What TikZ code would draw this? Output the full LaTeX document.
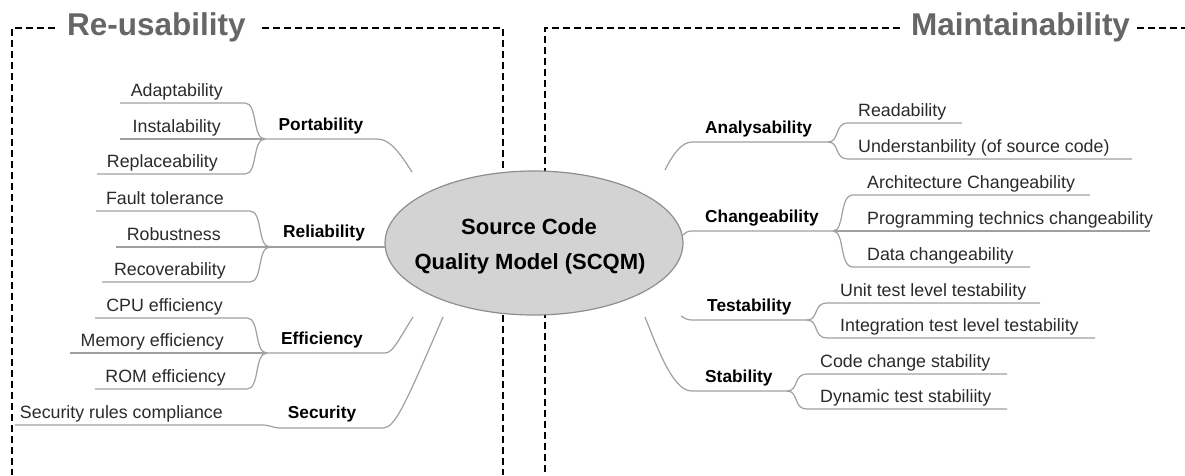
\documentclass[tikz,border=0pt]{standalone}
\usepackage{fontspec}
\setmainfont{Liberation Sans}
\usetikzlibrary{shapes.geometric}
\definecolor{linegray}{HTML}{A0A0A0}
\definecolor{ellfill}{HTML}{D3D3D3}
\definecolor{elldraw}{HTML}{8E8E8E}
\definecolor{ttlgray}{HTML}{666666}
\definecolor{leafcol}{HTML}{2A2A2A}
\newcommand\myleaf{\fontsize{17.8}{20}\selectfont}
\newcommand\mycat{\fontsize{17.3}{20}\selectfont\bfseries}
\newcommand\myttl{\fontsize{31.5}{34}\selectfont\bfseries}
\newcommand\mycen{\fontsize{22}{26}\selectfont\bfseries}
\begin{document}
\begin{tikzpicture}[x=1pt,y=-1pt,
  branch/.style={draw=linegray,line width=1.2pt},
  boxline/.style={draw=black,line width=1.3pt,dash pattern=on 7pt off 4pt},
  leaf/.style={font=\myleaf,text=leafcol,inner sep=0pt},
  cat/.style={font=\mycat,text=black,inner sep=0pt},
  ttl/.style={font=\myttl,text=ttlgray,inner sep=0pt},
  cen/.style={font=\mycen,text=black,inner sep=0pt}]
\useasboundingbox (0,0) rectangle (1185,475);

% titles
\node[ttl,anchor=base west] (reuse) at (67,35) {Re-usability};
\node[ttl,anchor=base west] (maint) at (911,35) {Maintainability};

% dashed boxes
\coordinate (LT1) at (55,28); \coordinate (LTL) at (12,28); \coordinate (LBL) at (12,475);
\coordinate (LT2) at (262,28); \coordinate (LTR) at (503,28); \coordinate (LBR) at (503,475);
\coordinate (RT1) at (900,28); \coordinate (RTL) at (545,28); \coordinate (RBL) at (545,475);
\coordinate (RT2) at (1137,28); \coordinate (RTR) at (1185,28);
\draw[boxline] (LT1) -- (LTL) -- (LBL);
\draw[boxline] (LT2) -- (LTR) -- (LBR);
\draw[boxline] (RT1) -- (RTL) -- (RBL);
\draw[boxline] (RT2) -- (RTR);

% centre
\node[ellipse,minimum width=298pt,minimum height=144pt,inner sep=0pt,fill=ellfill,draw=elldraw,line width=1.2pt] (scqm) at (534,243) {};
\node[cen,anchor=base] (cen1) at (529,234) {Source Code};
\node[cen,anchor=base] (cen2) at (530,269) {Quality Model (SCQM)};

% ---------- Portability
\coordinate (porF) at (265,139); \coordinate (porK) at (377,139); \coordinate (porE) at (412,172);
\draw[branch] (porF) -- (porK) .. controls (389,139) and (398,150) .. (porE);
\coordinate (adaA) at (120,103); \coordinate (adaB) at (245,103);
\draw[branch] (adaA) -- (adaB) .. controls (258,103) and (252,139) .. (porF);
\coordinate (insA) at (120,139);
\draw[branch] (insA) -- (porF);
\coordinate (repA) at (97,174); \coordinate (repB) at (245,174);
\draw[branch] (repA) -- (repB) .. controls (258,174) and (252,139) .. (porF);
\node[leaf,anchor=base east] (ada) at (223,96) {Adaptability};
\node[leaf,anchor=base east] (ins) at (221,132) {Instalability};
\node[leaf,anchor=base east] (rep) at (218,167) {Replaceability};
\node[cat,anchor=base] (por) at (321,130) {Portability};

% ---------- Reliability
\coordinate (relF) at (270,247); \coordinate (relE) at (385,247);
\draw[branch] (relF) -- (relE);
\coordinate (fauA) at (96,211); \coordinate (fauB) at (250,211);
\draw[branch] (fauA) -- (fauB) .. controls (263,211) and (257,247) .. (relF);
\coordinate (robA) at (116,247);
\draw[branch] (robA) -- (relF);
\coordinate (recA) at (102,282); \coordinate (recB) at (250,282);
\draw[branch] (recA) -- (recB) .. controls (263,282) and (257,247) .. (relF);
\node[leaf,anchor=base east] (fau) at (224,204) {Fault tolerance};
\node[leaf,anchor=base east] (rob) at (221,240) {Robustness};
\node[leaf,anchor=base east] (rec) at (226,275) {Recoverability};
\node[cat,anchor=base] (rel) at (324,237) {Reliability};

% ---------- Efficiency
\coordinate (effF) at (267,353); \coordinate (effK) at (385,353); \coordinate (effE) at (413,317);
\draw[branch] (effF) -- (effK) .. controls (393,353) and (399,339) .. (effE);
\coordinate (cpuA) at (95,318); \coordinate (cpuB) at (247,318);
\draw[branch] (cpuA) -- (cpuB) .. controls (260,318) and (254,353) .. (effF);
\coordinate (memA) at (70,353);
\draw[branch] (memA) -- (effF);
\coordinate (romA) at (95,389); \coordinate (romB) at (247,389);
\draw[branch] (romA) -- (romB) .. controls (260,389) and (254,353) .. (effF);
\node[leaf,anchor=base east] (cpu) at (223,311) {CPU efficiency};
\node[leaf,anchor=base east] (mem) at (224,346) {Memory efficiency};
\node[leaf,anchor=base east] (rom) at (226,382) {ROM efficiency};
\node[cat,anchor=base] (eff) at (322,344) {Efficiency};

% ---------- Security
\coordinate (secA) at (15,425); \coordinate (secB) at (263,425); \coordinate (secC) at (280,428);
\coordinate (secK) at (383,428); \coordinate (secE) at (443,317);
\draw[branch] (secA) -- (secB) .. controls (270,425) and (273,428) .. (secC) -- (secK)
  .. controls (395,428) and (405,405) .. (secE);
\node[leaf,anchor=base east] (srl) at (223,418) {Security rules compliance};
\node[cat,anchor=base] (sec) at (322,418) {Security};

% ---------- Analysability
\coordinate (anaF) at (828,142); \coordinate (anaK) at (692,142); \coordinate (anaE) at (665,170);
\draw[branch] (anaF) -- (anaK) .. controls (681,142) and (672,156) .. (anaE);
\coordinate (reaB) at (848,123); \coordinate (reaA) at (962,123);
\draw[branch] (anaF) .. controls (840,142) and (834,123) .. (reaB) -- (reaA);
\coordinate (undB) at (848,159); \coordinate (undA) at (1132,159);
\draw[branch] (anaF) .. controls (840,142) and (834,159) .. (undB) -- (undA);
\node[leaf,anchor=base west] (rea) at (858,116) {Readability};
\node[leaf,anchor=base west] (und) at (858,152) {Understanbility (of source code)};
\node[cat,anchor=base west] (ana) at (705,133) {Analysability};

% ---------- Changeability
\coordinate (chaF) at (833,231); \coordinate (chaK) at (692,231); \coordinate (chaE) at (683,235);
\draw[branch] (chaF) -- (chaK) .. controls (687,231) and (685,233) .. (chaE);
\coordinate (arcB) at (853,195); \coordinate (arcA) at (1090,195);
\draw[branch] (chaF) .. controls (845,231) and (839,195) .. (arcB) -- (arcA);
\coordinate (proA) at (1150,231);
\draw[branch] (chaF) -- (proA);
\coordinate (datB) at (853,267); \coordinate (datA) at (1030,267);
\draw[branch] (chaF) .. controls (845,231) and (839,267) .. (datB) -- (datA);
\node[leaf,anchor=base west] (arc) at (867,188) {Architecture Changeability};
\node[leaf,anchor=base west] (pro) at (867,224) {Programming technics changeability};
\node[leaf,anchor=base west] (dat) at (867,260) {Data changeability};
\node[cat,anchor=base west] (cha) at (705,222) {Changeability};

% ---------- Testability
\coordinate (tesF) at (807,320); \coordinate (tesK) at (692,320); \coordinate (tesE) at (681,316);
\draw[branch] (tesF) -- (tesK) .. controls (687,320) and (684,318) .. (tesE);
\coordinate (uniB) at (827,303); \coordinate (uniA) at (1040,303);
\draw[branch] (tesF) .. controls (819,320) and (813,303) .. (uniB) -- (uniA);
\coordinate (intB) at (827,338); \coordinate (intA) at (1095,338);
\draw[branch] (tesF) .. controls (819,320) and (813,338) .. (intB) -- (intA);
\node[leaf,anchor=base west] (uni) at (840,296) {Unit test level testability};
\node[leaf,anchor=base west] (int) at (840,331) {Integration test level testability};
\node[cat,anchor=base west] (tes) at (707,311) {Testability};

% ---------- Stability
\coordinate (staF) at (787,391); \coordinate (staK) at (692,391); \coordinate (staE) at (645,317);
\draw[branch] (staF) -- (staK) .. controls (674,391) and (660,355) .. (staE);
\coordinate (codB) at (807,374); \coordinate (codA) at (1007,374);
\draw[branch] (staF) .. controls (799,391) and (793,374) .. (codB) -- (codA);
\coordinate (dynB) at (807,409); \coordinate (dynA) at (1007,409);
\draw[branch] (staF) .. controls (799,391) and (793,409) .. (dynB) -- (dynA);
\node[leaf,anchor=base west] (cod) at (820,367) {Code change stability};
\node[leaf,anchor=base west] (dyn) at (820,402) {Dynamic test stabiliity};
\node[cat,anchor=base west] (sta) at (705,382) {Stability};
\end{tikzpicture}
\end{document}
